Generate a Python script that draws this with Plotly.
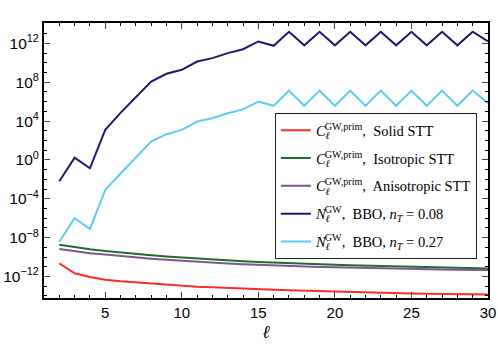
import plotly.graph_objects as go

ell = list(range(2, 31))

# log10 of the plotted quantities
solid_log10 = [-10.65, -11.68, -12.05, -12.35, -12.5, -12.62, -12.75, -12.85, -12.95, -13.05,
               -13.12, -13.2, -13.26, -13.32, -13.38, -13.43, -13.48, -13.53, -13.58, -13.62,
               -13.66, -13.7, -13.73, -13.76, -13.79, -13.81, -13.83, -13.85, -13.87]
iso_log10 = [-8.73, -9.0, -9.2, -9.38, -9.55, -9.7, -9.83, -9.95, -10.06, -10.17,
             -10.26, -10.35, -10.43, -10.5, -10.57, -10.63, -10.69, -10.74, -10.79, -10.84,
             -10.88, -10.93, -10.97, -11.0, -11.04, -11.08, -11.11, -11.14, -11.17]
aniso_log10 = [-9.18, -9.42, -9.6, -9.73, -9.9, -10.04, -10.17, -10.29, -10.4, -10.5,
               -10.59, -10.67, -10.74, -10.81, -10.87, -10.92, -10.97, -11.02, -11.06, -11.1,
               -11.14, -11.17, -11.2, -11.23, -11.26, -11.28, -11.3, -11.32, -11.34]
bbo008_log10 = [-2.2, 0.24, -0.86, 3.09, 4.85, 6.5, 8.07, 8.87, 9.28, 10.13,
                10.48, 11.0, 11.4, 12.2, 11.75, 13.2, 11.8, 13.2, 11.8, 13.2,
                11.8, 13.2, 11.8, 13.2, 11.8, 13.2, 11.8, 13.2, 12.2]
bbo027_log10 = [-8.42, -6.01, -7.11, -3.09, -1.4, 0.3, 1.89, 2.65, 3.09, 3.95,
                4.3, 4.8, 5.2, 6.0, 5.57, 7.14, 5.57, 7.14, 5.57, 7.14,
                5.57, 7.14, 5.57, 7.14, 5.57, 7.14, 5.57, 7.14, 5.85]

y_tick_exps = [-12, -8, -4, 0, 4, 8, 12]
y_tick_text = ['10<sup>\u221212</sup>', '10<sup>\u22128</sup>', '10<sup>\u22124</sup>', '10<sup>0</sup>',
               '10<sup>4</sup>', '10<sup>8</sup>', '10<sup>12</sup>']
y_minor_exps = list(range(-14, 15))
x_minor = list(range(1, 31))

C_lab = '<i>C</i><sub><span style="letter-spacing:-5px"><i>ℓ</i></span></sub><sup>GW,prim</sup>'
N_lab = '<i>N</i><sub><span style="letter-spacing:-5px"><i>ℓ</i></span></sub><sup>GW</sup>'
series = [
    (C_lab + ',  Solid STT', solid_log10, '#ff2a2a'),
    (C_lab + ',  Isotropic STT', iso_log10, '#226b30'),
    (C_lab + ',  Anisotropic STT', aniso_log10, '#7d5590'),
    (N_lab + ',  BBO, <i>n</i><sub><i>T</i></sub> = 0.08', bbo008_log10, '#1b1b6e'),
    (N_lab + ',  BBO, <i>n</i><sub><i>T</i></sub> = 0.27', bbo027_log10, '#5ccdee'),
]

fig = go.Figure()
for i, (name, vals, col) in enumerate(series):
    fig.add_trace(go.Scatter(x=ell, y=[10 ** v for v in vals], mode='lines', name=name,
                             legendgroup=f'g{i}',
                             line=dict(color=col, width=2)))

fig.update_layout(
    width=498, height=354,
    margin=dict(l=44, r=10, t=23, b=56, autoexpand=False),
    plot_bgcolor='white', paper_bgcolor='white',
    font=dict(family='Liberation Sans, Arial, sans-serif', size=15, color='black'),
    legend=dict(x=0.52, y=0.672, xanchor='left', yanchor='top',
                bordercolor='#222222', borderwidth=1, bgcolor='white',
                font=dict(family='Liberation Serif, DejaVu Serif, serif', size=14.5),
                itemwidth=30, tracegroupgap=6),
    showlegend=True,
)
fig.update_xaxes(range=[1, 30], tickmode='linear', tick0=0, dtick=5, automargin=False,
                 tickfont=dict(size=15),
                 ticks='inside', ticklen=6, tickwidth=1, mirror='ticks',
                 showline=True, linecolor='black', linewidth=2, showgrid=False, zeroline=False,
                 minor=dict(tickmode='array', tickvals=x_minor, ticks='inside', ticklen=3, tickcolor='black'),
                 title=dict(text='<i>ℓ</i>', font=dict(family='DejaVu Serif, serif', size=18), standoff=3))
fig.update_yaxes(type='log', range=[-14.22, 14.1], automargin=False,
                 tickmode='array', tickvals=[10 ** e for e in y_tick_exps], ticktext=y_tick_text,
                 tickfont=dict(size=15.5),
                 ticks='inside', ticklen=6, tickwidth=1, mirror='ticks',
                 showline=True, linecolor='black', linewidth=2, showgrid=False, zeroline=False,
                 minor=dict(tickmode='array', tickvals=[10 ** e for e in y_minor_exps],
                            ticks='inside', ticklen=3, tickcolor='black'))

fig.write_html('out.html', config={'displayModeBar': False},
               post_script="document.body.style.margin='0';document.body.style.padding='0';")
